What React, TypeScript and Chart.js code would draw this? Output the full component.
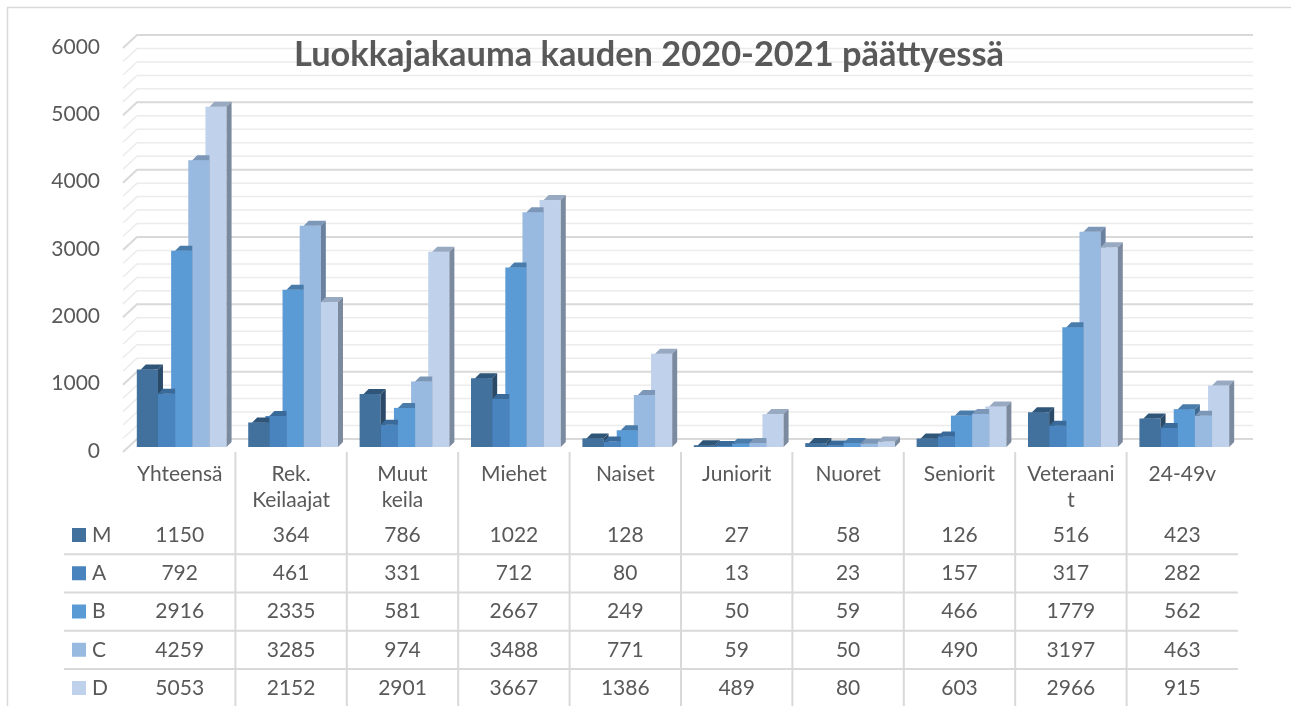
import React, { useEffect, useRef } from "react";
import { Chart, registerables } from "chart.js";

Chart.register(...registerables);

// ---------- data ----------
const CATEGORY_LABELS: string[][] = [
  ["Yhteensä"],
  ["Rek.", "Keilaajat"],
  ["Muut", "keila"],
  ["Miehet"],
  ["Naiset"],
  ["Juniorit"],
  ["Nuoret"],
  ["Seniorit"],
  ["Veteraani", "t"],
  ["24-49v"],
];
const SERIES_NAMES = ["M", "A", "B", "C", "D"];
const M_VALUES = [1150, 364, 786, 1022, 128, 27, 58, 126, 516, 423];
const A_VALUES = [792, 461, 331, 712, 80, 13, 23, 157, 317, 282];
const B_VALUES = [2916, 2335, 581, 2667, 249, 50, 59, 466, 1779, 562];
const C_VALUES = [4259, 3285, 974, 3488, 771, 59, 50, 490, 3197, 463];
const D_VALUES = [5053, 2152, 2901, 3667, 1386, 489, 80, 603, 2966, 915];
const SERIES_VALUES = [M_VALUES, A_VALUES, B_VALUES, C_VALUES, D_VALUES];
const Y_MIN = 0;
const Y_MAX = 6000;
const Y_STEP = 1000;
const Y_MINOR_STEP = 200;
const TITLE = "Luokkajakauma kauden 2020-2021 päättyessä";

// ---------- styles ----------
const FONT = "Lato, 'Open Sans', sans-serif";
const TEXT_COLOR = "#595959";
const FRONT_COLORS = ["#41719c", "#4a84bf", "#5b9bd5", "#98b9e0", "#c0d2eb"];
const TOP_COLORS = ["#2f5679", "#3a6a99", "#497cab", "#7c97b8", "#98a9c2"];
const SIDE_COLORS = ["#2a4a68", "#335c85", "#3f6a93", "#6a819f", "#7c8aa0"];
const GRID_MAJOR = "#d9d9d9";
const GRID_MINOR = "#ececec";
const BORDER_COLOR = "#d9d9d9";
const BAR_DX = 5;
const BAR_DY = 5;
const BAR_SHIFT = 4;
const WALL_FRONT_DX = -1;
const WALL_FRONT_DY = 5;
const WALL_BACK_DX = 13;
const WALL_BACK_DY = -8;
const WALL_RIGHT_EXTRA = 15;
const W = 1291;
const H = 706;

const threeDPlugin = {
  id: "threeDTable",
  beforeDraw(chart: any) {
    const ctx = chart.ctx;
    ctx.save();
    ctx.fillStyle = "#ffffff";
    ctx.fillRect(0, 0, W, H);
    ctx.strokeStyle = BORDER_COLOR;
    ctx.lineWidth = 1.5;
    ctx.strokeRect(7.5, 7.5, W + 50, H + 50);
    ctx.restore();
  },
  beforeDatasetsDraw(chart: any) {
    const ctx = chart.ctx;
    const y = chart.scales.y;
    const area = chart.chartArea;
    ctx.save();
    const drawLine = (v: number, color: string, lw: number) => {
      const yb = y.getPixelForValue(v);
      ctx.strokeStyle = color;
      ctx.lineWidth = lw;
      ctx.beginPath();
      ctx.moveTo(area.left + WALL_FRONT_DX, yb + WALL_FRONT_DY);
      ctx.lineTo(area.left + WALL_BACK_DX, yb + WALL_BACK_DY);
      ctx.lineTo(area.right + WALL_RIGHT_EXTRA, yb + WALL_BACK_DY);
      ctx.stroke();
    };
    for (let v = Y_MIN; v <= Y_MAX; v += Y_MINOR_STEP) {
      if (v % Y_STEP !== 0) drawLine(v, GRID_MINOR, 1.5);
    }
    for (let v = Y_MIN; v <= Y_MAX; v += Y_STEP) drawLine(v, GRID_MAJOR, 2);
    ctx.restore();
  },
  afterDatasetsDraw(chart: any) {
    const ctx = chart.ctx;
    ctx.save();
    ctx.translate(BAR_SHIFT, 0);
    for (let d = 0; d < SERIES_VALUES.length; d++) {
      const meta = chart.getDatasetMeta(d);
      meta.data.forEach((el: any) => {
        const p = el.getProps(["x", "y", "base", "width"], true);
        const l = p.x - p.width / 2;
        const r = p.x + p.width / 2;
        const t = p.y;
        const b = p.base;
        // front
        ctx.fillStyle = FRONT_COLORS[d];
        ctx.fillRect(l, t, r - l, b - t);
        // top
        ctx.fillStyle = TOP_COLORS[d];
        ctx.beginPath();
        ctx.moveTo(l, t);
        ctx.lineTo(r, t);
        ctx.lineTo(r + BAR_DX, t - BAR_DY);
        ctx.lineTo(l + BAR_DX, t - BAR_DY);
        ctx.closePath();
        ctx.fill();
        // side
        ctx.fillStyle = SIDE_COLORS[d];
        ctx.beginPath();
        ctx.moveTo(r, t);
        ctx.lineTo(r + BAR_DX, t - BAR_DY);
        ctx.lineTo(r + BAR_DX, b - BAR_DY);
        ctx.lineTo(r, b);
        ctx.closePath();
        ctx.fill();
      });
    }
    ctx.restore();
  },
  afterDraw(chart: any) {
    const ctx = chart.ctx;
    const x = chart.scales.x;
    const area = chart.chartArea;
    const n = CATEGORY_LABELS.length;
    const colW = (area.right - area.left) / n;
    ctx.save();

    // title
    ctx.font = `bold 30px ${FONT}`;
    const tw = ctx.measureText(TITLE).width;
    const titleSize = (30 * 710) / tw;
    ctx.font = `bold ${titleSize}px ${FONT}`;
    ctx.fillStyle = TEXT_COLOR;
    ctx.textAlign = "center";
    ctx.textBaseline = "alphabetic";
    ctx.fillText(TITLE, 649, 66);

    // table grid
    ctx.strokeStyle = GRID_MAJOR;
    ctx.lineWidth = 2;
    for (let k = 1; k < n; k++) {
      const bx = area.left + k * colW;
      ctx.beginPath();
      ctx.moveTo(bx, area.bottom + 5);
      ctx.lineTo(bx, H + 5);
      ctx.stroke();
    }
    const rowY0 = area.bottom + 88;
    const rowH = 38.25;
    for (let r = 0; r < SERIES_NAMES.length - 1; r++) {
      const ly = rowY0 + rowH * r + rowH / 2;
      ctx.beginPath();
      ctx.moveTo(64, ly);
      ctx.lineTo(area.right, ly);
      ctx.stroke();
    }

    // category labels
    ctx.font = `21px ${FONT}`;
    ctx.fillStyle = TEXT_COLOR;
    ctx.textAlign = "center";
    ctx.textBaseline = "middle";
    CATEGORY_LABELS.forEach((lines, i) => {
      const cx = x.getPixelForValue(i);
      lines.forEach((line, j) => {
        ctx.fillText(line, cx, area.bottom + 27 + j * 26);
      });
    });

    // rows
    SERIES_NAMES.forEach((name, r) => {
      const ry = rowY0 + rowH * r;
      ctx.fillStyle = FRONT_COLORS[r];
      ctx.fillRect(72, ry - 7, 14, 14);
      ctx.fillStyle = TEXT_COLOR;
      ctx.textAlign = "left";
      ctx.fillText(name, 92, ry);
      ctx.textAlign = "center";
      SERIES_VALUES[r].forEach((v, i) => {
        ctx.fillText(String(v), x.getPixelForValue(i), ry);
      });
    });
    ctx.restore();
  },
};

export default function App() {
  const ref = useRef<HTMLCanvasElement | null>(null);
  useEffect(() => {
    document.body.style.margin = "0";
    const canvas = ref.current;
    if (!canvas) return;
    const chart = new Chart(canvas, {
      type: "bar",
      data: {
        labels: CATEGORY_LABELS.map((l) => l.join(" ")),
        datasets: SERIES_NAMES.map((name, i) => ({
          label: name,
          data: SERIES_VALUES[i],
          backgroundColor: FRONT_COLORS[i],
          borderWidth: 0,
          inflateAmount: 0,
          categoryPercentage: 0.77,
          barPercentage: 1,
        })),
      },
      options: {
        animation: false,
        responsive: false,
        devicePixelRatio: 1,
        layout: { padding: { left: 0, right: 53, top: 43, bottom: 259 } },
        plugins: {
          legend: { display: false },
          tooltip: { enabled: false },
          title: { display: false },
        },
        scales: {
          x: { display: false },
          y: {
            min: Y_MIN,
            max: Y_MAX,
            afterFit: (s: any) => {
              s.width = 124;
            },
            grid: { display: false, drawTicks: false },
            border: { display: false },
            ticks: {
              stepSize: Y_STEP,
              padding: 24,
              labelOffset: 4,
              color: TEXT_COLOR,
              font: { family: FONT, size: 21 },
              callback: (v: any) => String(v),
            },
          },
        },
      },
      plugins: [threeDPlugin],
    } as any);
    return () => chart.destroy();
  }, []);
  return (
    <div style={{ width: W, height: H, position: "relative" }}>
      <canvas ref={ref} width={W} height={H} style={{ width: W, height: H, display: "block" }} />
    </div>
  );
}
